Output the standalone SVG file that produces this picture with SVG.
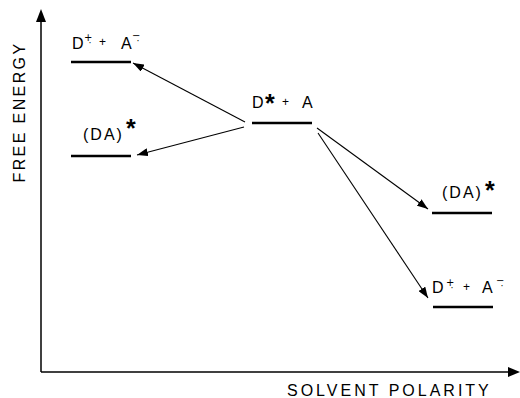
<svg xmlns="http://www.w3.org/2000/svg" width="520" height="398" viewBox="0 0 520 398">
<style>
.t{font-family:"Liberation Sans",Arial,sans-serif;font-size:16px;fill:#000}
.sp{letter-spacing:2px}
.s{font-family:"DejaVu Sans",sans-serif;font-size:10px}
.m{font-size:12px}
.st{font-size:25px;font-weight:bold;letter-spacing:0}
.lv{stroke:#000;stroke-width:2.6;fill:none}
.ax{stroke:#000;stroke-width:1.5;fill:none}
.ar{stroke:#000;stroke-width:1.1;fill:none;marker-end:url(#ah)}
</style>
<defs>
<marker id="ah" markerUnits="userSpaceOnUse" markerWidth="12" markerHeight="8" refX="11" refY="4" orient="auto">
<path d="M0,0 L11,4 L0,8 Z" fill="#000"/>
</marker>
</defs>
<g id="axes">
<line class="ax" x1="41" y1="20" x2="41" y2="372"/>
<path d="M41,9 L46,22 L36,22 Z" fill="#000"/>
<line class="ax" x1="41" y1="372" x2="510" y2="372"/>
<path d="M520,372 L508,367 L508,377 Z" fill="#000"/>
<text class="t" transform="translate(25,112) rotate(-90)" text-anchor="middle" style="letter-spacing:2.4px">FREE ENERGY</text>
<text class="t" x="287" y="396" style="letter-spacing:3px">SOLVENT POLARITY</text>
</g>
<g id="ion-left">
<line class="lv" x1="71" y1="62" x2="131" y2="62"/>
<text class="t"><tspan x="72" y="49">D</tspan><tspan class="s" x="84" y="41">+̣</tspan><tspan class="m" x="99" y="46">+</tspan><tspan x="121" y="49">A</tspan><tspan class="s" x="132" y="39">−̣</tspan></text>
</g>
<g id="exciplex-left">
<line class="lv" x1="71" y1="156" x2="131" y2="156"/>
<text class="t"><tspan class="sp" x="83" y="140">(DA)</tspan><tspan class="st" x="126" y="137">*</tspan></text>
</g>
<g id="excited">
<line class="lv" x1="252" y1="123" x2="312" y2="123"/>
<text class="t"><tspan x="252" y="108">D</tspan><tspan class="st" x="265" y="112">*</tspan><tspan class="m" x="282" y="106">+</tspan><tspan x="302" y="108">A</tspan></text>
</g>
<g id="exciplex-right">
<line class="lv" x1="432" y1="213" x2="492" y2="213"/>
<text class="t"><tspan class="sp" x="442" y="198">(DA)</tspan><tspan class="st" x="485" y="199">*</tspan></text>
</g>
<g id="ion-right">
<line class="lv" x1="433" y1="307" x2="493" y2="307"/>
<text class="t"><tspan x="432" y="293">D</tspan><tspan class="s" x="446" y="286">+̣</tspan><tspan class="m" x="463" y="291">+</tspan><tspan x="482" y="293">A</tspan><tspan class="s" x="496" y="284">−̣</tspan></text>
</g>
<g id="connectors">
<line class="ar" x1="245" y1="122" x2="133" y2="63"/>
<line class="ar" x1="244" y1="127" x2="137" y2="155"/>
<line class="ar" x1="317" y1="128" x2="428" y2="209"/>
<line class="ar" x1="318" y1="133" x2="428" y2="298"/>
</g>
</svg>
